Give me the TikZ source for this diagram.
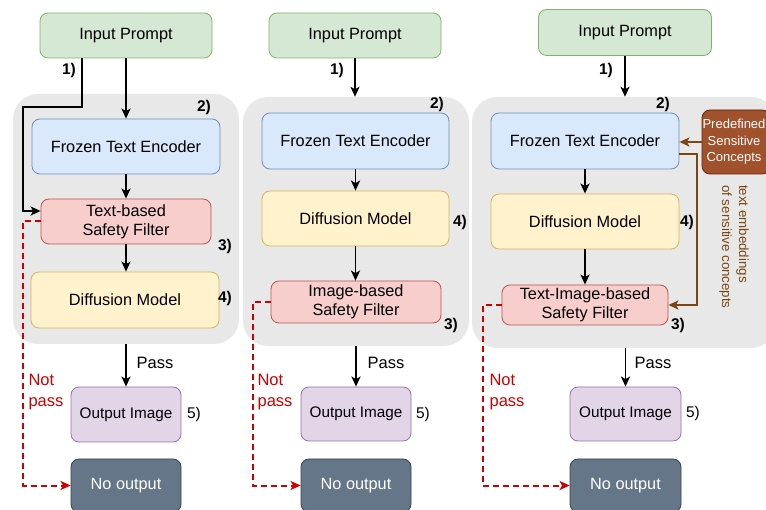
\documentclass[tikz,border=0pt]{standalone}
\usepackage{fontspec}
\setmainfont{Liberation Sans}
\usetikzlibrary{arrows.meta}

\definecolor{grnF}{HTML}{D5E8D4}\definecolor{grnD}{HTML}{82B366}
\definecolor{bluF}{HTML}{DAE8FC}\definecolor{bluD}{HTML}{6C8EBF}
\definecolor{redF}{HTML}{F8CECC}\definecolor{redD}{HTML}{B85450}
\definecolor{ylwF}{HTML}{FFF2CC}\definecolor{ylwD}{HTML}{D6B656}
\definecolor{purF}{HTML}{E1D5E7}\definecolor{purD}{HTML}{9673A6}
\definecolor{slaF}{HTML}{647687}\definecolor{slaD}{HTML}{314354}
\definecolor{brnF}{HTML}{A0522D}\definecolor{brnD}{HTML}{6D1F00}
\definecolor{brnL}{HTML}{7A4613}
\definecolor{panelG}{HTML}{E8E8E8}
\definecolor{npRed}{HTML}{CC0000}

\tikzset{
  box/.style={draw, rounded corners=8pt, line width=0.8pt, inner sep=1pt,
    align=center, font=\fontsize{16.3}{19}\selectfont},
  prompt/.style={box, fill=grnF, draw=grnD},
  encoder/.style={box, fill=bluF, draw=bluD},
  filterbox/.style={box, fill=redF, draw=redD},
  diffusion/.style={box, fill=ylwF, draw=ylwD},
  outimg/.style={box, fill=purF, draw=purD, font=\fontsize{15.3}{18}\selectfont},
  noout/.style={box, fill=slaF, draw=slaD, text=white},
  concepts/.style={box, fill=brnF, draw=brnD, text=white, font=\fontsize{13}{16.5}\selectfont},
  panel/.style={fill=panelG, rounded corners=25pt, inner sep=0pt},
  num/.style={inner sep=0pt, font=\fontsize{15.5}{18}\selectfont\bfseries},
  numreg/.style={inner sep=0pt, font=\fontsize{15.5}{18}\selectfont},
  passlbl/.style={inner sep=0pt, font=\fontsize{16.5}{19}\selectfont},
  nplbl/.style={inner sep=0pt, text=npRed, align=left, font=\fontsize{16.5}{20.5}\selectfont},
  arr/.style={line width=1.9pt, -{Stealth[length=10pt,width=9pt,inset=2.5pt]}},
  nopass/.style={draw=npRed, line width=2pt, dash pattern=on 6pt off 4pt,
    -{Stealth[length=10pt,width=9pt,inset=2.5pt]}, npRed},
  brarr/.style={draw=brnL, line width=2.1pt, -{Stealth[length=10pt,width=9pt,inset=2.5pt]}, brnL},
}

\begin{document}
\begin{tikzpicture}[x=1pt, y=-1pt]
\useasboundingbox (0,0) rectangle (766,510);
\clip (0,0) rectangle (766,510);

% grey backgrounds of the three pipelines
\node[panel, minimum width=226pt, minimum height=250pt] (g1) at (126,219) {};
\node[panel, minimum width=226pt, minimum height=249pt] (g2) at (356,221.5) {};
\node[panel, minimum width=304pt, minimum height=251pt] (g3) at (624,222.5) {};

% ---------- pipeline 1: text-based filter ----------
\node[prompt, minimum width=172pt, minimum height=45pt] (p1) at (126,35.5) {Input Prompt};
\node[encoder, minimum width=188pt, minimum height=55pt] (e1) at (126,146.5) {Frozen Text Encoder};
\node[filterbox, minimum width=170pt, minimum height=45pt] (f1) at (126,221.5) {Text-based\\Safety Filter};
\node[diffusion, minimum width=188pt, minimum height=56pt] (d1) at (125,300) {Diffusion Model};
\node[outimg, minimum width=110pt, minimum height=55pt] (o1) at (126,414.5) {Output Image};
\node[noout, minimum width=110pt, minimum height=53pt] (n1) at (126,485.5) {No output};

\node[num] (a1) at (69,70) {1)};
\node[num] (b1) at (204,107) {2)};
\node[num] (c1) at (225,246) {3)};
\node[num] (d1n) at (225,298) {4)};
\node[numreg] (e1n) at (194,414) {5)};
\node[passlbl] (ps1) at (155,363) {Pass};
\node[nplbl] (np1) at (46,392) {Not\\pass};

\coordinate (k1) at (23,107);
\draw[arr] (p1.south) -- (e1.north);
\draw[arr] ([xshift=-44pt]p1.south) |- (k1) |- ([yshift=10.5pt]f1.west);
\draw[arr] (e1) -- (f1);
\draw[arr] (f1.south) -- (f1.south |- d1.north);
\draw[arr] (g1.south -| o1.north) -- (o1.north);
\draw[nopass] (f1.west) -| ([xshift=-48pt]n1.west) -- (n1.west);

% ---------- pipeline 2: image-based filter ----------
\node[prompt, minimum width=172pt, minimum height=45pt] (p2) at (355,35.5) {Input Prompt};
\node[encoder, minimum width=187pt, minimum height=56pt] (e2) at (355.5,141) {Frozen Text Encoder};
\node[diffusion, minimum width=187pt, minimum height=55pt] (d2) at (355.5,218.5) {Diffusion Model};
\node[filterbox, minimum width=170pt, minimum height=42pt] (f2) at (356,302) {Image-based\\Safety Filter};
\node[outimg, minimum width=110pt, minimum height=54pt] (o2) at (356,414) {Output Image};
\node[noout, minimum width=110pt, minimum height=53pt] (n2) at (356,485.5) {No output};

\node[num] (a2) at (337,70) {1)};
\node[num] (b2) at (437,104) {2)};
\node[num] (c2) at (451,325) {3)};
\node[num] (d2n) at (460,222) {4)};
\node[numreg] (e2n) at (423,414) {5)};
\node[passlbl] (ps2) at (386,363) {Pass};
\node[nplbl] (np2) at (275,392) {Not\\pass};

\draw[arr] (p2.south) -- (p2.south |- g2.north);
\draw[arr] (e2) -- (d2);
\draw[arr] (d2.south) -- (d2.south |- f2.north);
\draw[arr] (g2.south -| o2.north) -- (o2.north);
\draw[nopass] (f2.west) -| ([xshift=-48pt]n2.west) -- (n2.west);

% ---------- pipeline 3: text-image-based filter ----------
\node[prompt, minimum width=173pt, minimum height=46pt] (p3) at (625,32.5) {Input Prompt};
\node[encoder, minimum width=188pt, minimum height=56pt] (e3) at (585,141) {Frozen Text Encoder};
\node[diffusion, minimum width=188pt, minimum height=55pt] (d3) at (585,221.5) {Diffusion Model};
\node[filterbox, minimum width=166pt, minimum height=40pt] (f3) at (585,305) {Text-Image-based\\Safety Filter};
\node[outimg, minimum width=111pt, minimum height=54pt] (o3) at (625.5,414) {Output Image};
\node[noout, minimum width=111pt, minimum height=53pt] (n3) at (625.5,485.5) {No output};
\node[concepts, minimum width=68pt, minimum height=64pt] (pc) at (736,142) {};
\node[inner sep=0pt, align=center, text=white, font=\fontsize{13}{16.5}\selectfont]
      (pct) at (734,142) {Predefined\\Sensitive\\Concepts};

\node[num] (a3) at (606,70) {1)};
\node[num] (b3) at (663,104) {2)};
\node[num] (c3) at (678,325) {3)};
\node[num] (d3n) at (687,222) {4)};
\node[numreg] (e3n) at (693,413) {5)};
\node[passlbl] (ps3) at (653,363) {Pass};
\node[nplbl] (np3) at (507,392) {Not\\pass};
\node[inner sep=0pt, rotate=-90, anchor=north west, align=left, text=brnL,
      font=\fontsize{13.3}{17}\selectfont] (emb) at (749,185)
      {text embeddings\\of sensitive concepts};

\draw[arr] (p3.south) -- (p3.south |- g3.north);
\draw[arr] (e3) -- (d3);
\draw[arr] (d3) -- (f3);
\draw[arr] (g3.south -| o3.north) -- (o3.north);
\draw[nopass] (f3.west) -| ([xshift=-87pt]n3.west) -- (n3.west);
\draw[brarr] (pc.west) -- (e3.east |- pc.west);
\draw[brarr] ([yshift=-13pt]e3.east) -- ++(18,0) |- (f3.east);
\end{tikzpicture}
\end{document}
